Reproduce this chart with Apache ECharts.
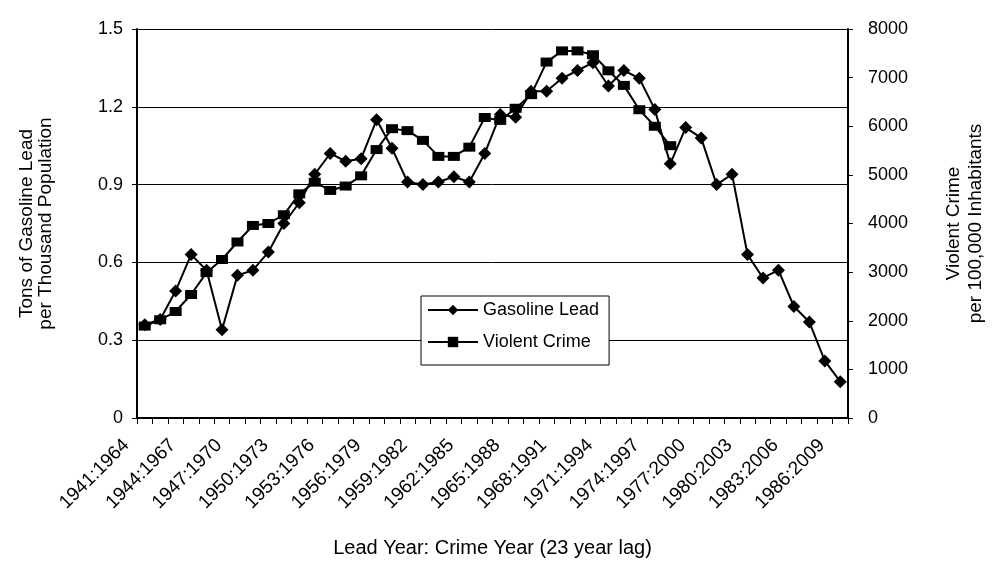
<!DOCTYPE html>
<html>
<head>
<meta charset="utf-8">
<title>Gasoline Lead vs Violent Crime</title>
<script src="https://cdn.jsdelivr.net/npm/echarts@6/dist/echarts.min.js"></script>
<style>
  html, body { margin: 0; padding: 0; background: #fff; }
  #main { width: 995px; height: 563px; }
</style>
</head>
<body>
<div id="main"></div>
<script type="text/javascript">
// lead year : crime year (23 year lag)
var categories = ['1941:1964','1942:1965','1943:1966','1944:1967','1945:1968','1946:1969','1947:1970','1948:1971',
  '1949:1972','1950:1973','1951:1974','1952:1975','1953:1976','1954:1977','1955:1978','1956:1979','1957:1980',
  '1958:1981','1959:1982','1960:1983','1961:1984','1962:1985','1963:1986','1964:1987','1965:1988','1966:1989',
  '1967:1990','1968:1991','1969:1992','1970:1993','1971:1994','1972:1995','1973:1996','1974:1997','1975:1998',
  '1976:1999','1977:2000','1978:2001','1979:2002','1980:2003','1981:2004','1982:2005','1983:2006','1984:2007',
  '1985:2008','1986:2009'];

// tons per thousand population
var gasolineLead = [0.36, 0.38, 0.49, 0.63, 0.57, 0.34, 0.55, 0.57, 0.64, 0.75, 0.83, 0.94, 1.02, 0.99, 1.00,
  1.15, 1.04, 0.91, 0.90, 0.91, 0.93, 0.91, 1.02, 1.17, 1.16, 1.26, 1.26, 1.31, 1.34, 1.37, 1.28, 1.34, 1.31,
  1.19, 0.98, 1.12, 1.08, 0.90, 0.94, 0.63, 0.54, 0.57, 0.43, 0.37, 0.22, 0.14];

// per 100,000 inhabitants (ends 1975:1998)
var violentCrime = [1890, 2020, 2190, 2540, 2990, 3260, 3620, 3960, 4000, 4180, 4610, 4850, 4680, 4770, 4980,
  5520, 5950, 5910, 5710, 5380, 5380, 5570, 6180, 6120, 6370, 6650, 7320, 7550, 7550, 7470, 7140, 6840, 6340,
  6000, 5600];

var leftTicks = [0, 0.3, 0.6, 0.9, 1.2, 1.5];
var rightTicks = [0, 1000, 2000, 3000, 4000, 5000, 6000, 7000, 8000];

var myChart = echarts.init(document.getElementById('main'));
var font = 'Liberation Sans, Arial, sans-serif';

var option = {
  backgroundColor: '#fff',
  animation: false,
  textStyle: { fontFamily: font, color: '#000' },
  grid: { left: 137, right: 144, top: 29, bottom: 144, containLabel: false },
  legend: {
    orient: 'vertical',
    left: 421,
    top: 296,
    padding: [5, 10, 14, 6],
    itemGap: 14,
    itemWidth: 50,
    itemHeight: 13,
    borderColor: '#000',
    borderWidth: 1,
    borderRadius: 0,
    backgroundColor: '#fff',
    textStyle: { fontSize: 18, color: '#000', fontFamily: font },
    data: ['Gasoline Lead', 'Violent Crime']
  },
  xAxis: {
    type: 'category',
    data: categories,
    boundaryGap: true,
    name: 'Lead Year: Crime Year (23 year lag)',
    nameLocation: 'middle',
    nameGap: 120,
    nameTextStyle: { fontSize: 20, color: '#000' },
    axisLine: { lineStyle: { color: '#000', width: 2 } },
    axisTick: { show: true, length: 6, interval: 0, lineStyle: { color: '#000' } },
    axisLabel: { interval: 2, rotate: 45, fontSize: 19, color: '#000', margin: 6, padding: [0, 26, 0, 0] },
    splitLine: { show: false }
  },
  yAxis: [
    {
      type: 'value',
      min: leftTicks[0],
      max: leftTicks[leftTicks.length - 1],
      interval: 0.3,
      position: 'left',
      name: 'Tons of Gasoline Lead\nper Thousand Population',
      nameLocation: 'middle',
      nameRotate: 90,
      nameGap: 82,
      nameTextStyle: { fontSize: 19, color: '#000', lineHeight: 19 },
      axisLine: { show: true, lineStyle: { color: '#000', width: 2 } },
      axisTick: { show: true, length: 5, lineStyle: { color: '#000' } },
      axisLabel: { fontSize: 18, color: '#000', margin: 14 },
      splitLine: { show: true, lineStyle: { color: '#000', width: 1 } }
    },
    {
      type: 'value',
      min: rightTicks[0],
      max: rightTicks[rightTicks.length - 1],
      interval: 1000,
      position: 'right',
      name: 'Violent Crime\nper 100,000 Inhabitants',
      nameLocation: 'middle',
      nameRotate: 90,
      nameGap: 95,
      nameTextStyle: { fontSize: 19, color: '#000', lineHeight: 22 },
      axisLine: { show: true, lineStyle: { color: '#000', width: 2 } },
      axisTick: { show: true, length: 5, lineStyle: { color: '#000' } },
      axisLabel: { fontSize: 18, color: '#000', margin: 20, formatter: function (v) { return String(v); } },
      splitLine: { show: false }
    }
  ],
  series: [
    {
      name: 'Gasoline Lead',
      type: 'line',
      yAxisIndex: 0,
      data: gasolineLead,
      symbol: 'diamond',
      symbolSize: 13,
      showAllSymbol: true,
      itemStyle: { color: '#000' },
      lineStyle: { color: '#000', width: 2 },
      z: 3
    },
    {
      name: 'Violent Crime',
      type: 'line',
      yAxisIndex: 1,
      data: violentCrime,
      symbol: 'rect',
      symbolSize: [12, 9],
      showAllSymbol: true,
      itemStyle: { color: '#000' },
      lineStyle: { color: '#000', width: 2 },
      z: 2
    }
  ]
};

myChart.setOption(option);
window.addEventListener('resize', function () {
  myChart.resize();
});
</script>
</body>
</html>
